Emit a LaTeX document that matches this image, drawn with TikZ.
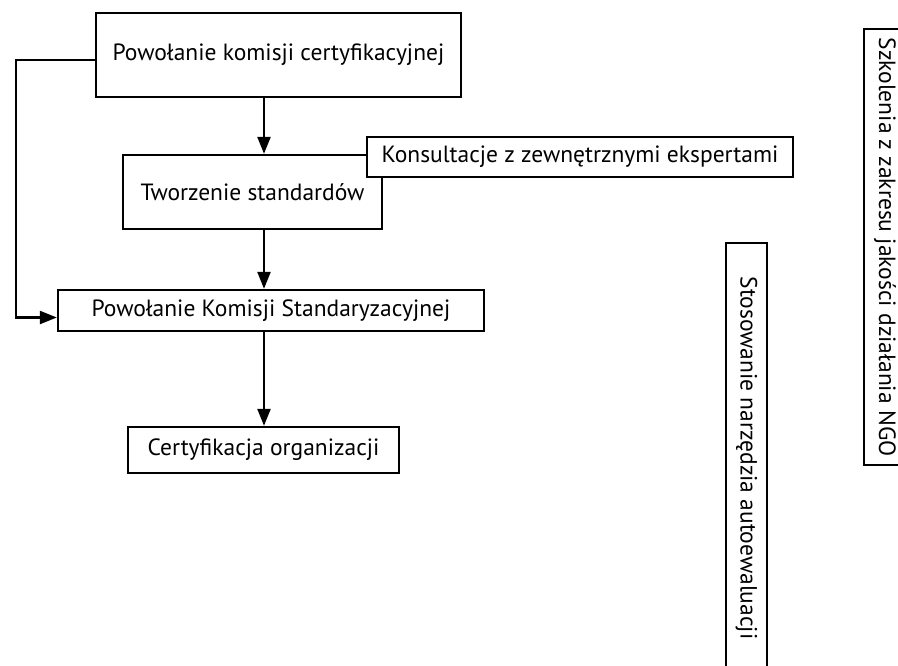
\documentclass[tikz,border=0pt]{standalone}
\usepackage{fontspec}
\setmainfont{PT Sans}
\usetikzlibrary{arrows.meta}
\begin{document}
\begin{tikzpicture}[x=1pt,y=-1pt,
  box/.style={draw,line width=2.4pt,fill=white,inner sep=0pt,font=\fontsize{23.5}{26}\selectfont},
  arr/.style={line width=2.4pt,-{Triangle[length=17pt,width=13pt]}}]
\useasboundingbox (0,0) rectangle (898,666);
\node[box,minimum width=365,minimum height=84] (b1) at (278.5,55) {Powołanie komisji certyfikacyjnej};
\node[box,minimum width=259,minimum height=74] (b2) at (252.5,192) {\raisebox{-4pt}{Tworzenie standardów}};
\node[box,minimum width=426,minimum height=40] (kons) at (580,157) {Konsultacje z zewnętrznymi ekspertami};
\node[box,minimum width=426,minimum height=41] (b4) at (271,310.5) {Powołanie Komisji Standaryzacyjnej};
\node[box,minimum width=271,minimum height=46] (b5) at (263.5,450) {Certyfikacja organizacji};
\node[box,rotate=-90,minimum width=430,minimum height=41] (stos) at (746.5,458) {Stosowanie narzędzia autoewaluacji};
\node[box,rotate=-90,minimum width=436,minimum height=42] (szk) at (885,247) {Szkolenia z zakresu jakości działania NGO};
\coordinate (col) at (264,0);
\coordinate (lx) at (16,200);
\draw[arr] (b1.south -| col) -- (b2.north -| col);
\draw[arr] (b2.south -| col) -- (b4.north -| col);
\draw[arr] (b4.south -| col) -- (b5.north -| col);
\draw[arr] ([yshift=-5pt]b1.west) -| (lx) |- ([yshift=-7pt]b4.west);
\end{tikzpicture}
\end{document}
